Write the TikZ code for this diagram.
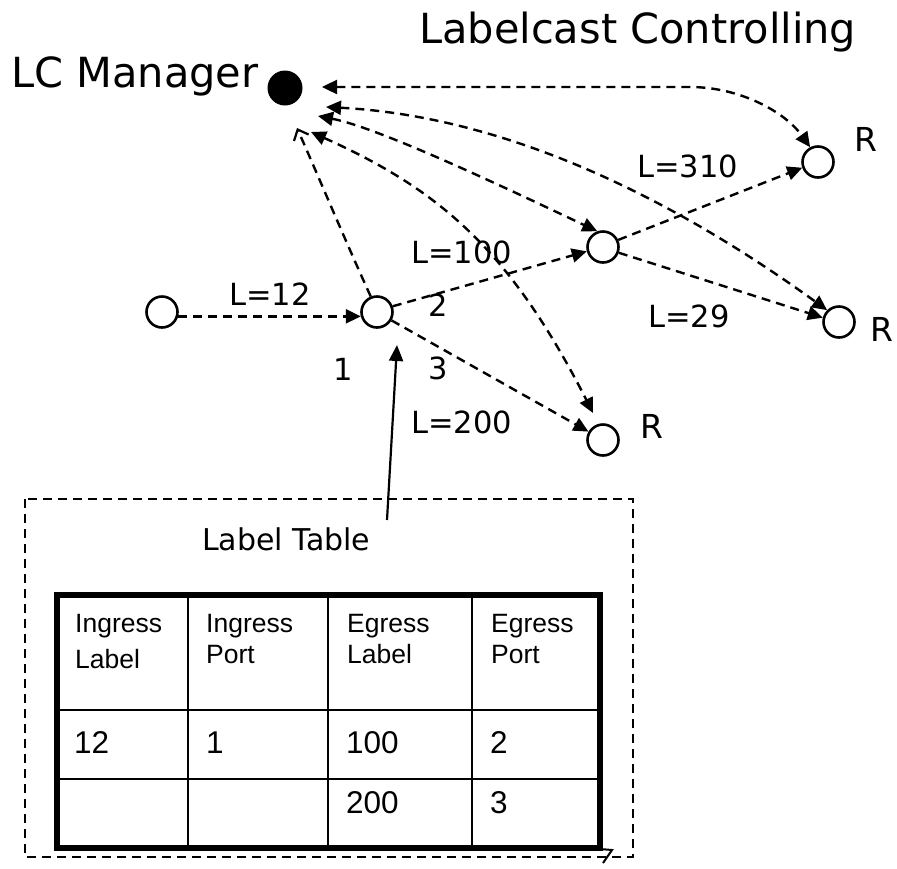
\documentclass[tikz,border=0pt]{standalone}
\usepackage{fontspec}
\setmainfont{DejaVu Sans}
\newfontfamily\tablefont{Liberation Sans}
\usetikzlibrary{arrows.meta}

\begin{document}
\begin{tikzpicture}[x=1pt,y=1pt,
  router/.style={circle,draw,line width=2.6pt,minimum size=31pt,inner sep=0pt},
  mgr/.style={circle,fill,minimum size=35pt,inner sep=0pt},
  dashline/.style={line width=2.4pt,dash pattern=on 9pt off 6pt},
  flow/.style={dashline,-{Triangle[length=15pt,width=14pt]}},
  ctrl/.style={dashline,{Triangle[length=15pt,width=14pt]}-{Triangle[length=15pt,width=14pt]}},
  report/.style={dashline,-{Straight Barb[length=9pt,width=16pt,line width=2.2pt]}},
  pointer/.style={line width=2.2pt,-{Triangle[length=16pt,width=14pt]}},
  lbl/.style={font=\fontsize{30.5}{36}\selectfont,anchor=base west,inner sep=0pt},
  rmark/.style={font=\fontsize{33}{38}\selectfont,anchor=base west,inner sep=0pt},
  title/.style={font=\fontsize{41.5}{50}\selectfont,anchor=base west,inner sep=0pt},
  cell/.style={font=\tablefont\fontsize{26.5}{30}\selectfont,anchor=base west,inner sep=0pt},
  num/.style={font=\tablefont\fontsize{31.5}{36}\selectfont,anchor=base west,inner sep=0pt}]

\useasboundingbox (0,0) rectangle (897,-868);

% titles
\node[title] (ttl) at (419,-43) {Labelcast Controlling};
\node[title] (mgrname) at (11,-87) {LC Manager};

% manager and routers
\node[mgr] (M) at (285,-88) {};
\node[router] (S) at (162,-312) {};
\node[router] (A) at (377,-312) {};
\node[router] (B) at (603,-247) {};
\node[router] (R1) at (818,-162) {};
\node[router] (R2) at (839,-322) {};
\node[router] (R3) at (603,-440) {};

% receiver marks
\node[rmark] (r1) at (854,-151) {R};
\node[rmark] (r2) at (870,-341) {R};
\node[rmark] (r3) at (640,-438) {R};

% link labels and port numbers
\node[lbl] (l12) at (229,-305) {L=12};
\node[lbl] (l100) at (411,-263) {L=100};
\node[lbl] (l200) at (411,-433) {L=200};
\node[lbl] (l310) at (637,-177) {L=310};
\node[lbl] (l29) at (648,-327) {L=29};
\node[lbl] (p1) at (333,-380) {1};
\node[lbl] (p2) at (428,-316) {2};
\node[lbl] (p3) at (428,-379) {3};

% data-plane links
\draw[flow] (S.-15) -- (A.195);
\draw[flow] (A.20) -- (B.195);
\draw[flow] (A.-30) -- (R3.150);
\draw[flow] (B.25) -- (R1.200);
\draw[flow] (B.-20) -- (R2.165);

% control channels between the manager and the routers
\coordinate (m1) at (322,-87);
\coordinate (m2) at (326,-107);
\coordinate (m3) at (318,-116);
\coordinate (m4) at (311,-132);
\coordinate (m5) at (297,-128);
\coordinate (bend1) at (690,-87);
\coordinate (r3top) at ([shift={(-10,27)}]R3.center);
\draw[ctrl] (m1) -- (bend1) .. controls (740,-87) and (785,-112) .. (R1.118);
\draw[ctrl] (m2) .. controls (480,-115) and (640,-175) .. (R2.135);
\draw[ctrl] (m3) .. controls (380,-128) and (510,-190) .. (B.110);
\draw[ctrl] (m4) .. controls (440,-190) and (510,-250) .. (r3top);
\draw[report] (A.112) .. controls (345,-240) and (320,-180) .. (m5);

% label table frame and pointer
\draw[dashline] (25,-499) rectangle (633,-857);
\coordinate (tfoot) at (387,-520);
\draw[pointer] (tfoot) -- ([shift={(20,-33)}]A.center);
\node[lbl,font=\fontsize{30}{36}\selectfont] (tcap) at (202,-550) {Label Table};

% table grid
\draw[line width=2.2pt] (188,-595) -- (188,-848)
                        (328,-595) -- (328,-848)
                        (472,-595) -- (472,-848)
                        (57,-710) -- (600,-710)
                        (57,-779) -- (600,-779);
\draw[line width=5.5pt] (57,-595) rectangle (600,-848);
\draw[line width=2pt] (600,-849) -- (612,-850) -- (603,-863);

% header cells
\node[cell] (h1a) at (75,-632) {Ingress};
\node[cell] (h1b) at (75,-668) {Label};
\node[cell] (h2a) at (206,-632) {Ingress};
\node[cell] (h2b) at (206,-663) {Port};
\node[cell] (h3a) at (347,-632) {Egress};
\node[cell] (h3b) at (347,-663) {Label};
\node[cell] (h4a) at (491,-632) {Egress};
\node[cell] (h4b) at (491,-663) {Port};

% entries
\node[num] (c12) at (74,-753) {12};
\node[num] (c1) at (206,-753) {1};
\node[num] (c100) at (346,-753) {100};
\node[num] (c2) at (490,-753) {2};
\node[num] (c200) at (346,-813) {200};
\node[num] (c3) at (490,-813) {3};
\end{tikzpicture}
\end{document}
